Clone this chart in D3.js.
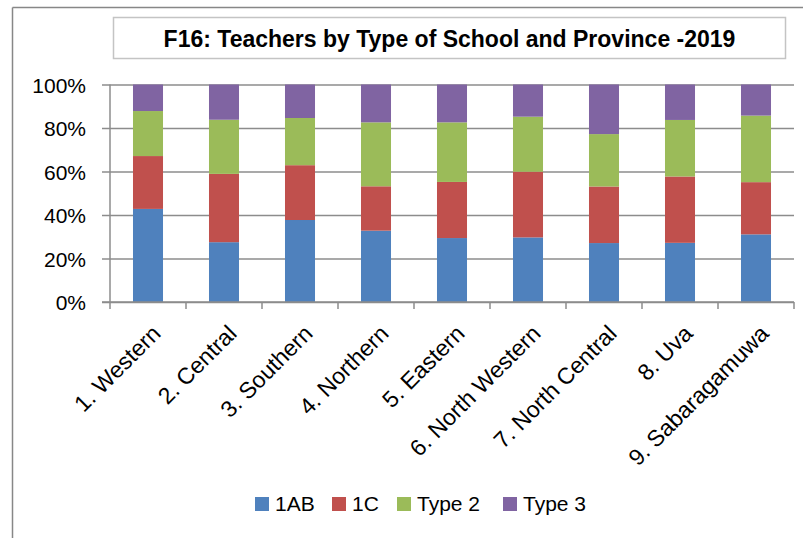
<!DOCTYPE html>
<html>
<head>
<meta charset="utf-8">
<script src="https://cdn.jsdelivr.net/npm/d3@7"></script>
<style>
  body { margin: 0; background: #fff; }
  svg { display: block; font-family: "Liberation Sans", Arial, sans-serif; }
</style>
</head>
<body>
<div id="chart"></div>
<script>
// data (percent share of teachers)
const provinces = ['1. Western', '2. Central', '3. Southern', '4. Northern', '5. Eastern',
  '6. North Western', '7. North Central', '8. Uva', '9. Sabaragamuwa'];
const seriesNames = ['1AB', '1C', 'Type 2', 'Type 3'];
const share1AB   = [42.8, 27.5, 37.7, 32.8, 29.4, 29.7, 27.1, 27.2, 31.1];
const share1C    = [24.3, 31.4, 25.2, 20.4, 25.8, 30.2, 26.0, 30.5, 24.0];
const shareType2 = [20.7, 24.9, 21.7, 29.4, 27.4, 25.3, 24.1, 26.0, 30.6];
const shareType3 = [12.2, 16.2, 15.4, 17.4, 17.4, 14.8, 22.8, 16.3, 14.3];
const yTicks = [0, 0.2, 0.4, 0.6, 0.8, 1];
const colors = ['#4F81BD', '#C0504D', '#9BBB59', '#8064A2'];

const width = 804, height = 539;
const svg = d3.select('#chart').append('svg')
  .attr('width', width)
  .attr('height', height);

// outer chart frame: only its left and top edges show
svg.append('line')
  .attr('x1', 12.5).attr('x2', 12.5)
  .attr('y1', 7.5).attr('y2', height - 1)
  .attr('stroke', '#878787')
  .attr('stroke-width', 1.5);
svg.append('line')
  .attr('x1', 12.5).attr('x2', width - 1)
  .attr('y1', 7.5).attr('y2', 7.5)
  .attr('stroke', '#878787')
  .attr('stroke-width', 1.5);

// title box
svg.append('rect')
  .attr('x', 113.5).attr('y', 17.5)
  .attr('width', 672).attr('height', 41)
  .attr('fill', '#fff')
  .attr('stroke', '#c4c4c4')
  .attr('stroke-width', 1.5);

svg.append('text')
  .attr('x', 449.5).attr('y', 46.5)
  .attr('text-anchor', 'middle')
  .attr('font-size', 23)
  .attr('font-weight', 'bold')
  .attr('fill', '#000')
  .text('F16: Teachers by Type of School and Province -2019');

const margin = { top: 84.5, left: 110 };
const innerWidth = 794 - margin.left;
const innerHeight = 302 - margin.top;

const table = provinces.map((p, i) => {
  const total = share1AB[i] + share1C[i] + shareType2[i] + shareType3[i];
  return {
    province: p,
    '1AB': share1AB[i] / total,
    '1C': share1C[i] / total,
    'Type 2': shareType2[i] / total,
    'Type 3': shareType3[i] / total
  };
});

const stacked = d3.stack().keys(seriesNames)(table);

const x = d3.scaleBand()
  .domain(provinces)
  .range([0, innerWidth])
  .paddingInner(0.605)
  .paddingOuter(0.3025);

const y = d3.scaleLinear()
  .domain([0, 1])
  .range([innerHeight, 0]);

const g = svg.append('g')
  .attr('transform', `translate(${margin.left},${margin.top})`);

// gridlines + y axis
const yAxis = d3.axisLeft(y)
  .tickValues(yTicks)
  .tickFormat(d3.format('.0%'))
  .tickSize(-innerWidth)
  .tickPadding(24);

const yAxisG = g.append('g').call(yAxis);
yAxisG.select('.domain').remove();
yAxisG.selectAll('.tick line')
  .attr('x1', -8)
  .attr('stroke', '#8c8c8c')
  .attr('stroke-width', 1.5);
yAxisG.selectAll('.tick text')
  .attr('font-size', 21)
  .attr('font-family', '"Liberation Sans", Arial, sans-serif')
  .attr('fill', '#000')
  .attr('dy', '0.36em');

// bars
g.selectAll('.series')
  .data(stacked)
  .enter().append('g')
  .attr('class', 'series')
  .attr('fill', (d, i) => colors[i])
  .selectAll('rect')
  .data(d => d)
  .enter().append('rect')
  .attr('x', d => x(d.data.province))
  .attr('y', d => y(d[1]))
  .attr('width', x.bandwidth())
  .attr('height', d => y(d[0]) - y(d[1]));

// y axis line
g.append('line')
  .attr('x1', 0).attr('x2', 0)
  .attr('y1', 0).attr('y2', innerHeight)
  .attr('stroke', '#8c8c8c')
  .attr('stroke-width', 1.5);

// x axis with boundary ticks
const step = x.step();
const boundaries = d3.range(provinces.length + 1).map(i => i * step);
const xAxisG = g.append('g').attr('transform', `translate(0,${innerHeight})`);
xAxisG.append('line')
  .attr('x1', -8).attr('x2', innerWidth)
  .attr('stroke', '#8c8c8c')
  .attr('stroke-width', 1.5);
xAxisG.selectAll('.tb')
  .data(boundaries)
  .enter().append('line')
  .attr('class', 'tb')
  .attr('x1', d => d).attr('x2', d => d)
  .attr('y1', 0).attr('y2', 7)
  .attr('stroke', '#8c8c8c')
  .attr('stroke-width', 1.5);

xAxisG.selectAll('.xl')
  .data(provinces)
  .enter().append('text')
  .attr('class', 'xl')
  .attr('text-anchor', 'end')
  .attr('font-size', 23)
  .attr('fill', '#000')
  .attr('transform', d => `translate(${x(d) + x.bandwidth() / 2 + 14},33) rotate(-45)`)
  .text(d => d);

// legend
const legendX = [255, 332, 397, 503];
const legend = svg.append('g').attr('transform', 'translate(0,497)');
const items = legend.selectAll('g')
  .data(seriesNames)
  .enter().append('g')
  .attr('transform', (d, i) => `translate(${legendX[i]},0)`);
items.append('rect')
  .attr('width', 14).attr('height', 14)
  .attr('fill', (d, i) => colors[i]);
items.append('text')
  .attr('x', 20).attr('y', 14)
  .attr('font-size', 21)
  .attr('fill', '#000')
  .text(d => d);
</script>
</body>
</html>
